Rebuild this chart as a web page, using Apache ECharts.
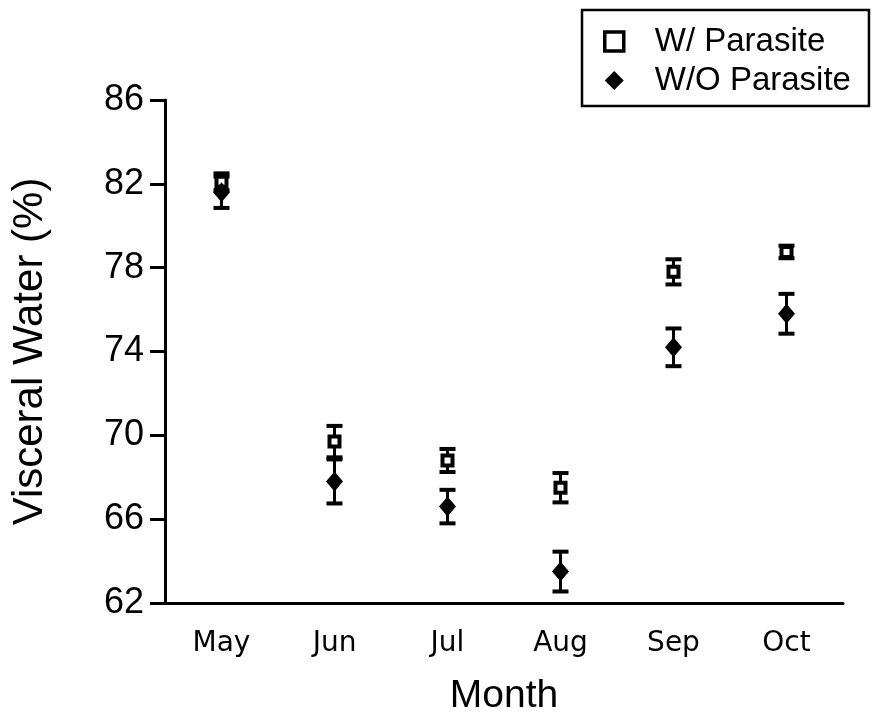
<!DOCTYPE html>
<html><head><meta charset="utf-8">
<script src="https://cdn.jsdelivr.net/npm/echarts@6/dist/echarts.min.js"></script>
<style>html,body{margin:0;padding:0;background:#fff}#c{width:875px;height:718px}</style>
</head><body><div id="c"></div>
<script>
const months = ['May', 'Jun', 'Jul', 'Aug', 'Sep', 'Oct'];
const withMean = [82.1, 69.7, 68.8, 67.5, 77.8, 78.75];
const withErr = [0.4, 0.75, 0.55, 0.7, 0.6, 0.3];
const withoutMean = [81.6, 67.8, 66.6, 63.5, 74.2, 75.8];
const withoutErr = [0.75, 1.05, 0.8, 0.95, 0.9, 0.95];
const yTicks = [62, 66, 70, 74, 78, 82, 86];

function errData(mean, err) {
  return mean.map((m, i) => [i, m - err[i], m + err[i]]);
}
function renderErr(params, api) {
  const x = api.value(0);
  const lo = api.coord([x, api.value(1)]);
  const hi = api.coord([x, api.value(2)]);
  const hw = 8;
  return {
    type: 'group',
    children: [
      {type: 'line', shape: {x1: lo[0], y1: lo[1], x2: hi[0], y2: hi[1]}, style: {stroke: '#000', lineWidth: 3}},
      {type: 'line', shape: {x1: hi[0] - hw, y1: hi[1], x2: hi[0] + hw, y2: hi[1]}, style: {stroke: '#000', lineWidth: 4}},
      {type: 'line', shape: {x1: lo[0] - hw, y1: lo[1], x2: lo[0] + hw, y2: lo[1]}, style: {stroke: '#000', lineWidth: 4}}
    ]
  };
}
const chart = echarts.init(document.getElementById('c'), null, {renderer: 'canvas'});
chart.setOption({
  animation: false,
  backgroundColor: '#fff',
  grid: {left: 165, right: 32, top: 100, bottom: 115, containLabel: false, outerBoundsMode: 'none'},
  legend: {
    left: 582, top: 10, orient: 'vertical',
    padding: [14, 18, 8, 21],
    borderColor: '#000', borderWidth: 2.5,
    itemWidth: 19, itemHeight: 19, itemGap: 4,
    textStyle: {fontFamily: 'Liberation Sans, Arial, sans-serif', fontSize: 33, color: '#000', lineHeight: 35, padding: [0, 0, 0, 26]},
    data: [
      {name: 'W/ Parasite', icon: 'rect', itemStyle: {color: '#fff', borderColor: '#000', borderWidth: 3.5}},
      {name: 'W/O Parasite', icon: 'diamond', itemStyle: {color: '#000'}}
    ]
  },
  xAxis: {
    type: 'category', data: months, boundaryGap: true,
    name: 'Month', nameLocation: 'middle', nameGap: 74,
    nameTextStyle: {fontFamily: 'Liberation Sans, Arial, sans-serif', fontSize: 39, color: '#000'},
    axisLine: {lineStyle: {color: '#000', width: 3}},
    axisTick: {alignWithLabel: true, length: 13, lineStyle: {color: '#000', width: 3}},
    axisLabel: {fontFamily: 'DejaVu Sans, sans-serif', fontSize: 28, color: '#000', margin: 27},
    splitLine: {show: false}
  },
  yAxis: {
    type: 'value', min: yTicks[0], max: yTicks[yTicks.length - 1], interval: 4,
    name: 'Visceral Water (%)', nameLocation: 'middle', nameGap: 114,
    nameTextStyle: {fontFamily: 'Liberation Sans, Arial, sans-serif', fontSize: 42, color: '#000'},
    axisLine: {show: true, lineStyle: {color: '#000', width: 3}},
    axisTick: {show: true, length: 15, lineStyle: {color: '#000', width: 3}},
    axisLabel: {fontFamily: 'Liberation Sans, Arial, sans-serif', fontSize: 36, color: '#000', margin: 21},
    splitLine: {show: false}
  },
  series: [
    {name: 'W/ Parasite err', type: 'custom', renderItem: renderErr, data: errData(withMean, withErr), encode: {x: 0, y: [1, 2]}, z: 2},
    {name: 'W/O Parasite err', type: 'custom', renderItem: renderErr, data: errData(withoutMean, withoutErr), encode: {x: 0, y: [1, 2]}, z: 2},
    {name: 'W/ Parasite', type: 'scatter', data: withMean, symbol: 'rect', symbolSize: 10,
      itemStyle: {color: '#fff', borderColor: '#000', borderWidth: 4, opacity: 1}, z: 5},
    {name: 'W/O Parasite', type: 'scatter', data: withoutMean, symbol: 'diamond', symbolSize: [17, 20],
      itemStyle: {color: '#000', opacity: 1}, z: 5}
  ]
});
</script></body></html>
